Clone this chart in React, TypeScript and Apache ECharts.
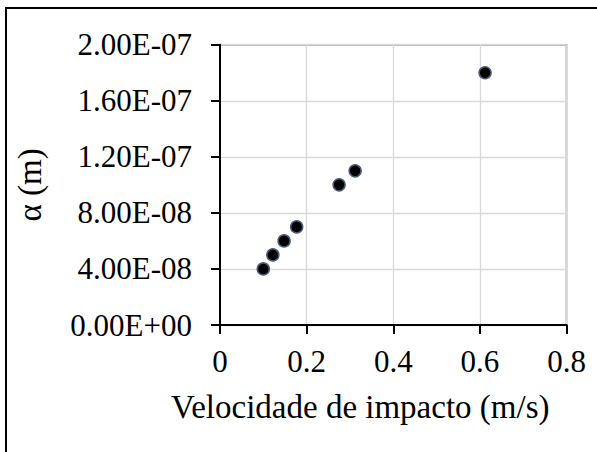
import React, { useEffect, useRef } from "react";
import * as echarts from "echarts";

const velocities = [0.1, 0.122, 0.148, 0.177, 0.275, 0.312, 0.612];
const alphas = [4e-8, 5e-8, 6e-8, 7e-8, 1e-7, 1.1e-7, 1.8e-7];
const xTitle = "Velocidade de impacto (m/s)";
const yTitle = "α (m)";

const fmtExp = (v: number) => {
  const s = v.toExponential(2).toUpperCase();
  const m = s.match(/^(-?[\d.]+)E([+-])(\d+)$/);
  if (!m) return s;
  return `${m[1]}E${m[2]}${m[3].padStart(2, "0")}`;
};

export default function App() {
  const ref = useRef<HTMLDivElement>(null);
  useEffect(() => {
    if (!ref.current) return;
    const chart = echarts.init(ref.current, null, { renderer: "svg" });
    const font = "'Liberation Serif', 'Times New Roman', serif";
    const labelStyle = {
      fontFamily: font,
      fontSize: 31,
      fontWeight: "normal",
      color: "#000",
    };
    chart.setOption({
      animation: false,
      backgroundColor: "#fff",
      textStyle: { fontFamily: font },
      graphic: [
        {
          type: "rect",
          shape: { x: 6, y: 8, width: 800, height: 800 },
          style: { fill: "none", stroke: "#000", lineWidth: 2 },
          silent: true,
          z: 100,
        },
      ],
      grid: {
        left: 220,
        right: 30.5,
        top: 44.7,
        bottom: 127,
        show: true,
        borderColor: "#5b6985",
        borderWidth: 1.5,
        backgroundColor: "transparent",
      },
      xAxis: {
        type: "value",
        min: 0,
        max: 0.8,
        interval: 0.2,
        name: xTitle,
        nameLocation: "middle",
        nameGap: 65,
        nameTextStyle: { fontFamily: font, fontSize: 33, color: "#000", padding: [0, 66, 0, 0] },
        axisLine: { show: true, lineStyle: { color: "#000", width: 2 } },
        axisTick: { show: true, length: 9, lineStyle: { color: "#000", width: 2 } },
        axisLabel: {
          ...labelStyle,
          margin: 21,
          formatter: (v: number) => String(Math.round(v * 10) / 10),
        },
        splitLine: { show: true, lineStyle: { color: "#d9d9d9", width: 1.3 } },
      },
      yAxis: {
        type: "value",
        min: 0,
        max: 2e-7,
        interval: 4e-8,
        name: yTitle,
        nameLocation: "middle",
        nameGap: 174,
        nameTextStyle: { fontFamily: font, fontSize: 33, color: "#000" },
        axisLine: { show: true, onZero: false, lineStyle: { color: "#000", width: 2 } },
        axisTick: { show: true, length: 9, lineStyle: { color: "#000", width: 2 } },
        axisLabel: {
          ...labelStyle,
          margin: 28,
          formatter: (v: number) => fmtExp(v),
        },
        splitLine: { show: true, lineStyle: { color: "#d9d9d9", width: 1.3 } },
      },
      series: [
        {
          type: "scatter",
          data: velocities.map((x, i) => [x, alphas[i]]),
          symbol: "circle",
          symbolSize: 12,
          itemStyle: { color: "#000", borderColor: "#4a5a78", borderWidth: 1.5, opacity: 1 },
        },
      ],
    });
    return () => chart.dispose();
  }, []);
  return (
    <div
      ref={ref}
      style={{ position: "absolute", left: 0, top: 0, width: 597, height: 452 }}
    />
  );
}
